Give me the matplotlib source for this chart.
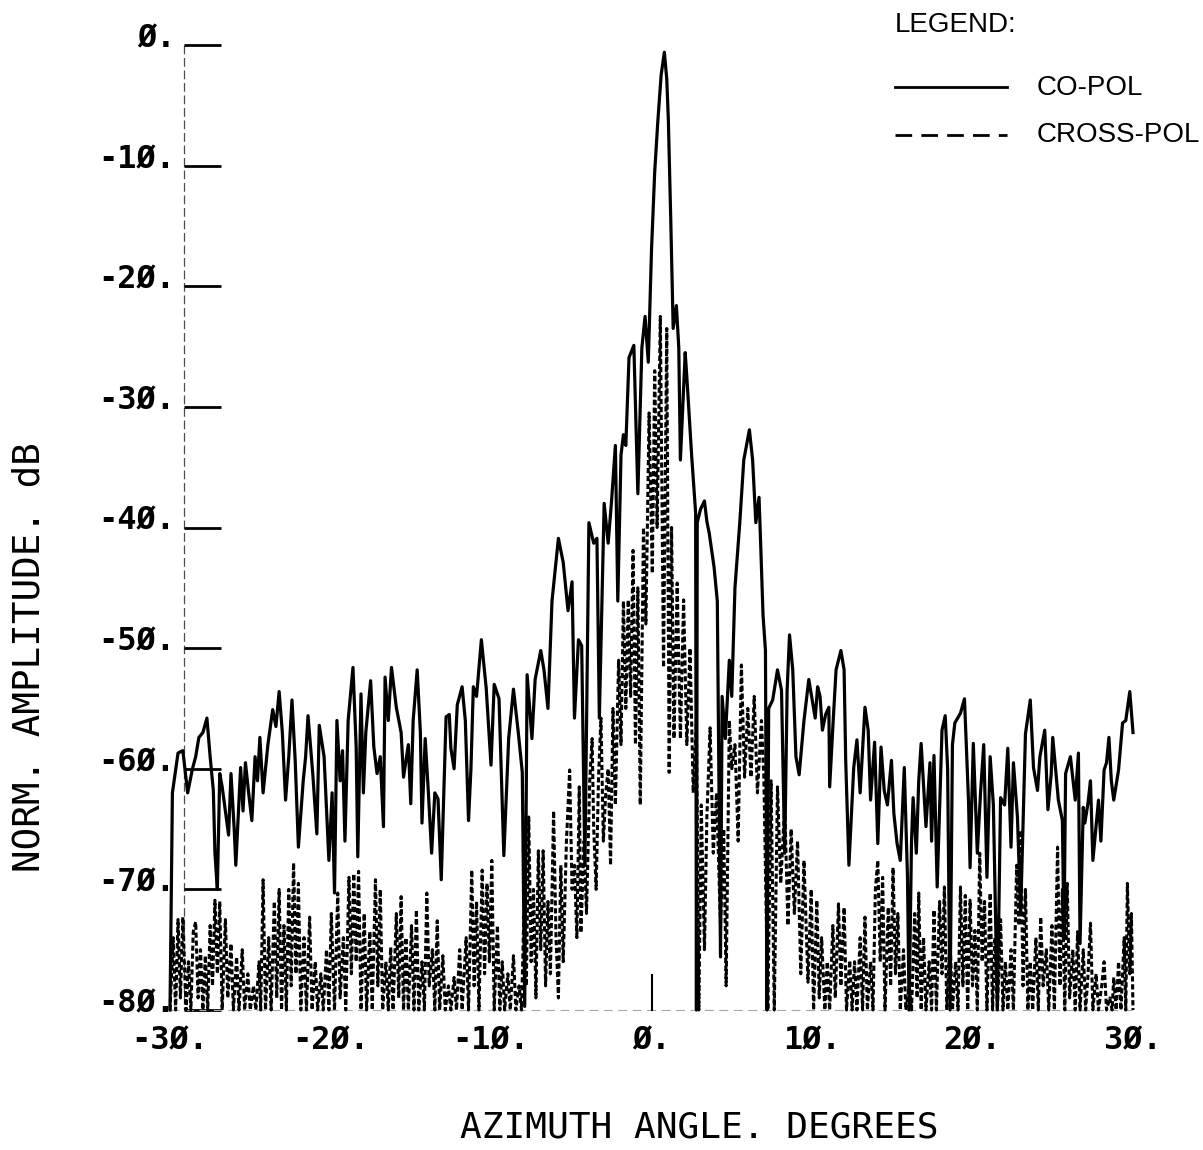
import matplotlib
matplotlib.use("Agg")
import matplotlib.pyplot as plt
from matplotlib.lines import Line2D

# ---------------- data ----------------
co_angle = [
    -30.0, -29.85, -29.5, -29.2, -28.9, -28.6, -28.4, -28.2, -27.95, -27.7,
    -27.5, -27.3, -27.2, -27.05, -26.9, -26.75, -26.5, -26.35, -26.2, -26.0,
    -25.9, -25.6, -25.45, -25.3, -25.1, -24.9, -24.7, -24.55, -24.4, -24.2, -23.9, -23.6,
    -23.4, -23.2, -23.0, -22.8, -22.6, -22.4, -22.2, -22.0, -21.7, -21.55, -21.4,
    -21.1, -20.85, -20.7, -20.4, -20.1, -19.9, -19.75, -19.6, -19.4, -19.25, -19.1,
    -18.9, -18.6, -18.4, -18.3, -18.1, -17.95, -17.8, -17.5, -17.3, -17.1, -16.9,
    -16.7, -16.6, -16.4, -16.2, -15.9, -15.6, -15.45, -15.15, -15.0, -14.85, -14.6, -14.4,
    -14.3, -14.1, -13.9, -13.7, -13.5, -13.3, -13.1, -12.8, -12.6, -12.5, -12.3,
    -12.1, -11.8, -11.6, -11.4, -11.25, -11.1, -10.9, -10.6, -10.3, -10.0, -9.8,
    -9.5, -9.2, -8.9, -8.6, -8.3, -8.05, -7.9, -7.75, -7.45, -7.25,
    -6.9, -6.7, -6.45, -6.2, -5.8, -5.5, -5.2, -4.95, -4.8, -4.55,
    -4.35, -4.15, -3.9, -3.6, -3.4, -3.25, -2.95, -2.7, -2.5, -2.25,
    -2.1, -1.9, -1.75, -1.6, -1.4, -1.1, -0.85, -0.6, -0.4, -0.2,
    0.0, 0.2, 0.4, 0.6, 0.8, 0.95, 1.05, 1.2, 1.35, 1.55,
    1.7, 1.8, 2.1, 2.2, 2.5, 2.75, 2.8, 2.85, 3.05, 3.3,
    3.45, 3.6, 3.9, 4.1, 4.3, 4.4, 4.6, 4.85, 5.0, 5.2,
    5.5, 5.75, 6.1, 6.3, 6.4, 6.5, 6.7, 6.8, 6.95, 7.1,
    7.2, 7.3, 7.55, 7.85, 8.1, 8.3, 8.45, 8.6, 8.8, 9.0,
    9.2, 9.5, 9.8, 10.2, 10.35, 10.5, 10.65, 10.85, 11.05, 11.1,
    11.3, 11.5, 11.8, 12.0, 12.1, 12.2, 12.3, 12.6, 12.8, 13.0,
    13.3, 13.5, 13.65, 13.9, 14.1, 14.3, 14.5, 14.7, 14.95, 15.1,
    15.3, 15.5, 15.75, 15.95, 16.05, 16.2, 16.3, 16.5, 16.65, 16.8, 17.1,
    17.35, 17.45, 17.6, 17.8, 18.1, 18.3, 18.45, 18.6, 18.75, 18.9,
    19.25, 19.5, 19.75, 19.85, 20.05, 20.3, 20.5, 20.7, 20.9, 21.1, 21.3,
    21.55, 21.75, 22.0, 22.2, 22.4, 22.55, 22.8, 23.0, 23.3, 23.6, 23.8,
    24.05, 24.2, 24.5, 24.7, 24.9, 25.0, 25.35, 25.6, 25.7, 25.8, 26.1,
    26.4, 26.6, 26.7, 26.9, 27.0, 27.2, 27.35, 27.5, 27.85, 28.0, 28.2, 28.35, 28.5, 28.65, 28.8,
    29.1, 29.35, 29.55, 29.8, 30.0,
]
co_db = [
    -80.0, -62.0, -58.7, -58.5, -62.0, -60.0, -59.0, -57.4, -57.0, -55.8,
    -59.0, -61.8, -67.0, -70.0, -60.4, -61.5, -64.0, -65.5, -60.4, -65.0,
    -68.0, -59.9, -63.5, -59.5, -62.0, -64.3, -59.0, -61.0, -57.4, -62.0, -58.0, -55.1,
    -56.5, -53.6, -57.0, -62.6, -59.0, -54.3, -59.3, -66.5, -61.0, -59.0, -55.6,
    -60.5, -65.4, -56.4, -59.0, -67.6, -62.0, -70.3, -56.0, -61.0, -58.5, -66.0,
    -56.0, -51.6, -58.2, -67.3, -53.8, -62.0, -57.0, -52.7, -58.2, -60.4, -59.0,
    -64.8, -52.4, -56.0, -51.6, -54.9, -57.0, -60.7, -58.0, -62.9, -56.0, -51.8, -57.0,
    -64.5, -57.5, -62.0, -67.0, -62.0, -62.5, -69.2, -55.7, -55.5, -58.3, -60.0,
    -54.7, -53.2, -56.0, -64.3, -60.0, -53.2, -54.0, -49.3, -53.3, -59.7, -53.0,
    -54.2, -67.2, -57.5, -53.4, -57.0, -60.3, -79.7, -52.2, -57.5, -52.6,
    -50.2, -51.8, -55.0, -46.1, -40.9, -42.9, -46.9, -44.5, -55.8, -49.3,
    -49.8, -68.0, -39.6, -41.3, -40.9, -55.8, -38.0, -41.3, -38.0, -33.2,
    -46.1, -34.0, -32.3, -33.2, -25.9, -24.9, -37.2, -25.1, -22.5, -26.3,
    -17.0, -10.5, -6.2, -2.5, -0.6, -2.8, -6.2, -14.5, -23.5, -21.6,
    -25.1, -34.4, -25.5, -27.5, -34.0, -38.8, -80.0, -39.6, -38.5, -37.8,
    -39.5, -40.5, -43.3, -46.1, -75.6, -54.0, -57.5, -51.0, -54.0, -45.0,
    -39.6, -34.4, -31.9, -34.4, -37.0, -39.6, -37.5, -41.3, -47.3, -50.2,
    -80.0, -55.0, -54.3, -51.8, -53.5, -67.0, -53.5, -48.9, -51.8, -59.0,
    -60.5, -56.0, -52.6, -55.8, -53.2, -54.0, -56.8, -55.5, -54.9, -61.5,
    -56.5, -51.8, -50.2, -51.8, -59.3, -63.7, -68.0, -59.9, -57.6, -62.0,
    -54.9, -56.8, -62.6, -57.8, -66.2, -58.2, -61.8, -63.0, -59.3, -63.7,
    -66.2, -67.6, -59.9, -69.0, -80.0, -66.0, -62.4, -67.0, -61.0, -57.9, -64.8,
    -59.5, -66.0, -58.9, -69.8, -56.8, -55.6, -60.0, -80.0, -58.0, -56.2,
    -55.4, -54.2, -62.6, -68.2, -57.9, -67.0, -62.0, -58.0, -69.0, -59.0, -63.0,
    -80.0, -62.4, -63.0, -58.3, -66.5, -59.5, -64.0, -72.0, -57.1, -54.3, -59.9,
    -61.8, -59.0, -56.8, -63.4, -60.5, -57.4, -62.6, -64.3, -74.0, -60.4, -59.0,
    -62.6, -58.7, -74.5, -63.2, -64.5, -62.8, -61.0, -67.6, -62.6, -66.0, -60.1, -59.5, -57.4, -61.0, -62.6,
    -60.1, -56.2, -56.0, -53.6, -57.0,
]

cross_angle = [
    -30.0, -29.8, -29.65, -29.5, -29.35, -29.2, -29.0, -28.85, -28.7, -28.55,
    -28.4, -28.25, -28.1, -27.95, -27.8, -27.65, -27.5, -27.35, -27.2, -27.05,
    -26.9, -26.75, -26.55, -26.4, -26.2, -26.05, -25.85, -25.7, -25.5, -25.35,
    -25.15, -25.0, -24.8, -24.65, -24.45, -24.35, -24.2, -24.05, -23.85, -23.7,
    -23.5, -23.35, -23.2, -23.05, -22.9, -22.75, -22.6, -22.45, -22.3, -22.15,
    -22.0, -21.85, -21.65, -21.5, -21.3, -21.15, -20.95, -20.8, -20.6, -20.45,
    -20.25, -20.1, -19.95, -19.75, -19.55, -19.4, -19.2, -19.05, -18.85, -18.7,
    -18.55, -18.4, -18.25, -18.1, -17.9, -17.75, -17.55, -17.4, -17.2, -17.05,
    -16.9, -16.75, -16.55, -16.4, -16.25, -16.1, -15.9, -15.75, -15.6, -15.45,
    -15.3, -15.15, -14.95, -14.8, -14.65, -14.5, -14.3, -14.15, -14.0, -13.85,
    -13.65, -13.5, -13.35, -13.2, -13.0, -12.85, -12.65, -12.5, -12.3, -12.15,
    -11.95, -11.8, -11.55, -11.4, -11.2, -11.05, -10.9, -10.75, -10.55, -10.4,
    -10.25, -10.1, -9.95, -9.8, -9.6, -9.45, -9.3, -9.15, -8.95, -8.8,
    -8.6, -8.45, -8.25, -8.1, -7.95, -7.8, -7.65, -7.5, -7.35, -7.2,
    -7.05, -6.9, -6.75, -6.6, -6.45, -6.3, -6.1, -5.95, -5.8, -5.65,
    -5.5, -5.3, -5.1, -4.95, -4.8, -4.65, -4.5, -4.4, -4.2, -4.05,
    -3.85, -3.7, -3.6, -3.45, -3.3, -3.15, -3.0, -2.85, -2.7, -2.55,
    -2.4, -2.25, -2.05, -1.9, -1.75, -1.6, -1.45, -1.3, -1.15, -1.0,
    -0.85, -0.7, -0.5, -0.35, -0.15, 0.05, 0.2, 0.35, 0.55, 0.75,
    0.95, 1.1, 1.25, 1.4, 1.6, 1.8, 2.0, 2.2, 2.4, 2.6,
    2.8, 2.95, 3.1, 3.3, 3.45, 3.65, 3.85, 4.05, 4.3, 4.5,
    4.65, 4.85, 5.0, 5.2, 5.4, 5.6, 5.8, 6.0, 6.2, 6.4,
    6.6, 6.85, 7.0, 7.25, 7.45, 7.65, 7.85, 8.05, 8.3, 8.5,
    8.7, 8.9, 9.1, 9.3, 9.5, 9.75, 9.95, 10.1, 10.3, 10.45,
    10.6, 10.8, 10.95, 11.1, 11.3, 11.45, 11.65, 11.8, 12.0, 12.15,
    12.35, 12.5, 12.65, 12.8, 13.0, 13.15, 13.3, 13.45, 13.65, 13.8,
    13.95, 14.1, 14.25, 14.4, 14.55, 14.75, 14.9, 15.05, 15.2, 15.35,
    15.5, 15.7, 15.85, 16.05, 16.2, 16.4, 16.55, 16.65, 16.8, 16.95,
    17.1, 17.3, 17.45, 17.6, 17.75, 17.95, 18.1, 18.25, 18.4, 18.6,
    18.75, 18.95, 19.1, 19.25, 19.4, 19.55, 19.7, 19.85, 20.0, 20.15,
    20.3, 20.45, 20.6, 20.75, 20.9, 21.1, 21.25, 21.4, 21.55, 21.75,
    21.9, 22.05, 22.2, 22.4, 22.55, 22.75, 22.9, 23.0, 23.15, 23.3,
    23.45, 23.6, 23.75, 23.95, 24.1, 24.25, 24.4, 24.6, 24.75, 24.95,
    25.1, 25.3, 25.45, 25.6, 25.75, 25.9, 26.05, 26.25, 26.4, 26.55,
    26.7, 26.9, 27.05, 27.2, 27.35, 27.5, 27.7, 27.85, 28.05, 28.2,
    28.35, 28.55, 28.7, 28.8, 28.95, 29.1, 29.25, 29.45, 29.55, 29.65,
    29.8, 29.9, 30.0,
]
cross_db = [
    -80, -74, -80, -72.5, -79, -72.3, -80, -76, -80, -73.5,
    -72.7, -79, -75, -80, -75.5, -80, -73, -78, -70.9, -77,
    -71, -80, -72.5, -79, -74.5, -80, -75.6, -80, -75, -80,
    -77, -80, -78, -80, -76, -80, -69.2, -80, -74, -80,
    -71, -79, -70, -80, -73, -80, -70, -78, -67.8, -77,
    -69.5, -80, -74, -80, -72.3, -80, -76, -80, -77, -80,
    -75, -80, -72, -80, -70.3, -79, -74, -80, -69, -77,
    -68.7, -76, -68.5, -80, -72, -80, -73.5, -80, -69.2, -78,
    -70, -80, -76, -80, -74.8, -80, -72, -79, -70.6, -80,
    -74, -80, -73, -80, -71.7, -80, -76, -80, -70.3, -78,
    -75, -80, -72.6, -80, -75.5, -80, -78, -80, -77.3, -80,
    -75, -80, -74, -80, -68.4, -78, -71, -80, -68.4, -77,
    -69.5, -76, -67.6, -80, -73, -80, -76, -80, -77, -80,
    -75.5, -80, -78, -80, -72, -78, -64, -76, -70, -79,
    -66.8, -75, -66.8, -78, -71, -77, -63.5, -74, -79, -68,
    -76, -66, -60.1, -70, -68, -74, -61.5, -73.6, -66, -72,
    -61, -57.5, -65, -70, -60.7, -55.8, -66, -62, -60, -68,
    -55, -63, -51, -58, -46.1, -55, -46, -54, -41.9, -58,
    -45, -63, -40, -48, -30.5, -43.8, -27, -40, -22.5, -51.6,
    -23.5, -60.3, -40, -57.5, -44.6, -57.5, -46, -58, -50, -62,
    -56, -80, -63, -75, -64, -56.6, -67, -62, -73, -65,
    -78, -56, -60, -58, -66, -51.4, -60.7, -55, -60.7, -54,
    -62, -56, -60.7, -80, -61, -80, -61.5, -69.5, -63, -73,
    -65, -72, -66, -77, -67.6, -77.7, -70, -80, -70.9, -79,
    -74, -80, -76, -80, -73, -79, -71.2, -78, -71.5, -80,
    -75.9, -80, -76, -80, -74, -80, -72.3, -80, -76, -80,
    -70, -67.6, -76, -69, -80, -71.5, -78, -68.2, -77, -72,
    -80, -75, -80, -78, -80, -72, -79, -70.3, -80, -74,
    -80, -76, -80, -71.7, -80, -71, -77, -69.8, -80, -74,
    -80, -76, -80, -69.8, -78, -70.5, -80, -70.9, -78, -73.4,
    -80, -67, -76, -71, -80, -70.3, -80, -74, -80, -72.5,
    -80, -76, -80, -75, -80, -68, -73, -65.1, -78, -70,
    -80, -76, -80, -74, -80, -72.3, -78, -75, -80, -73,
    -80, -66.5, -78, -70, -80, -69.5, -79, -75, -80, -73.5,
    -80, -75, -80, -77, -72.8, -80, -77, -80, -78, -76,
    -80, -79, -80, -77.3, -80, -76, -80, -74, -80, -69.5,
    -77, -72, -80,
]

y_ticks = [0, -10, -20, -30, -40, -50, -60, -70, -80]
y_tick_labels = ["Ø.", "-1Ø.", "-2Ø.", "-3Ø.", "-4Ø.", "-5Ø.", "-6Ø.", "-7Ø.", "-8Ø."]
x_ticks = [-30, -20, -10, 0, 10, 20, 30]
x_tick_labels = ["-3Ø.", "-2Ø.", "-1Ø.", "Ø.", "1Ø.", "2Ø.", "3Ø."]
series_names = ["CO-POL", "CROSS-POL"]

# ---------------- figure ----------------
W, H = 1203, 1150
fig = plt.figure(figsize=(W / 100, H / 100), dpi=100)
fig.patch.set_facecolor("white")
ax = fig.add_axes([170 / W, 1 - 1010 / H, 963 / W, 965 / H])
ax.set_xlim(-30, 30)
ax.set_ylim(-80, 0)
ax.axis("off")

mono = "DejaVu Sans Mono"

# plotter style y axis (thin broken line) with tick bars
yaxis_x = -29.1
ax.plot([yaxis_x, yaxis_x], [0, -80], color="0.3", lw=0.9,
        ls=(0, (7, 3)), clip_on=False)
for t, lab in zip(y_ticks, y_tick_labels):
    ax.plot([yaxis_x, -26.8], [t, t], color="black", lw=2.0,
            solid_capstyle="butt", clip_on=False)
    ax.text(-29.65, t + 0.5, lab, ha="right", va="center", family=mono,
            fontsize=23, fontweight="bold", clip_on=False)

# faint bottom line and centre tick
ax.plot([-30, 30], [-80, -80], color="0.65", lw=0.8, ls=(0, (8, 5)), clip_on=False)
ax.plot([0, 0], [-77.1, -80], color="black", lw=1.5, clip_on=False)

for t, lab in zip(x_ticks, x_tick_labels):
    ax.text(t, -82.6, lab, ha="center", va="center", family=mono,
            fontsize=23, fontweight="bold", clip_on=False)

# data
ax.plot(cross_angle, cross_db, color="black", lw=2.2, ls=(0, (1.7, 0.9)),
        clip_on=False, zorder=3)
ax.plot(co_angle, co_db, color="black", lw=2.3, clip_on=False, zorder=4)

# axis titles
fig.text(699 / W, 1 - 1128 / H, "AZIMUTH ANGLE. DEGREES", ha="center", va="center",
         family=mono, fontsize=26)
fig.text(30 / W, 1 - 657 / H, "NORM. AMPLITUDE. dB", ha="center", va="center",
         rotation=90, family=mono, fontsize=27)

# legend (drawn in figure coordinates)
sans = "Liberation Sans"
fig.text(895 / W, 1 - 25 / H, "LEGEND:", ha="left", va="center", family=sans, fontsize=20)
fig.add_artist(Line2D([895 / W, 1007 / W], [1 - 87 / H, 1 - 87 / H], color="black",
                      lw=2.0, transform=fig.transFigure))
fig.text(1037 / W, 1 - 88 / H, series_names[0], ha="left", va="center", family=sans, fontsize=20)
fig.add_artist(Line2D([895 / W, 1007 / W], [1 - 135 / H, 1 - 135 / H], color="black",
                      lw=2.0, ls=(0, (6.0, 3.3)), transform=fig.transFigure))
fig.text(1037 / W, 1 - 135 / H, series_names[1], ha="left", va="center", family=sans, fontsize=20)

fig.savefig("out.png", dpi=100, facecolor="white")
